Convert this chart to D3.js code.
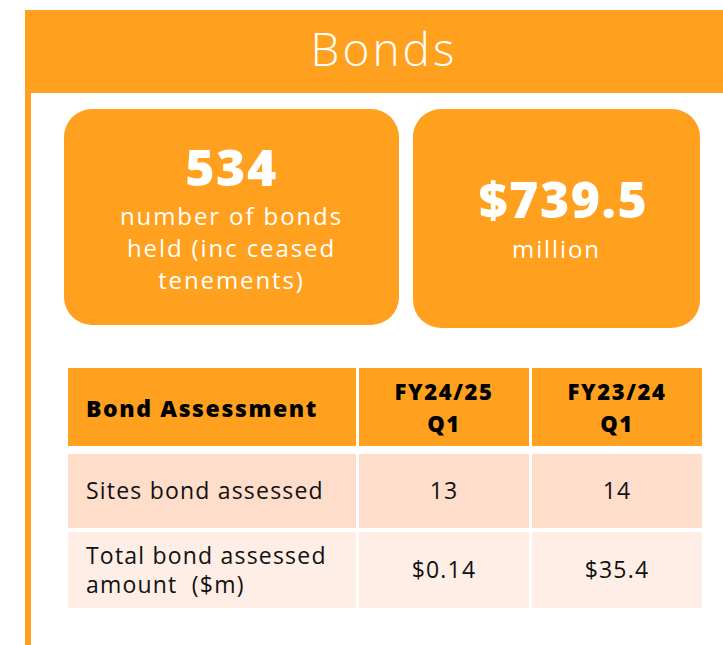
<!DOCTYPE html>
<html>
<head>
<meta charset="utf-8">
<script src="https://cdn.jsdelivr.net/npm/d3@7"></script>
<style>
  body { margin: 0; background: #fff; }
  svg { display: block; font-family: "Open Sans", Lato, sans-serif; }
  tspan { white-space: pre; }
</style>
</head>
<body>
<svg id="chart"></svg>
<script>
// data
var title = "Bonds";
var cardValues = ["534", "$739.5"];
var cardLabels = [["number of bonds", "held (inc ceased", "tenements)"], ["million"]];
var columns = [["Bond Assessment"], ["FY24/25", "Q1"], ["FY23/24", "Q1"]];
var rowLabels = [["Sites bond assessed"], ["Total bond assessed", "amount  ($m)"]];
var fy2425 = ["13", "$0.14"];
var fy2324 = ["14", "$35.4"];

var screen = {width: 723, height: 645};
var orange = "#FFA01E";
var rowFill = ["#FEDDCA", "#FEEEE5"];

var svg = d3.select("#chart")
  .attr("width", screen.width)
  .attr("height", screen.height);

// frame + header band
svg.append("rect")
  .attr("x", 25).attr("y", 10)
  .attr("width", 6).attr("height", screen.height)
  .attr("fill", orange);

svg.append("rect")
  .attr("x", 25).attr("y", 10)
  .attr("width", 720).attr("height", 83)
  .attr("rx", 2)
  .attr("fill", orange);

svg.append("text")
  .attr("x", 384).attr("y", 66)
  .attr("text-anchor", "middle")
  .attr("fill", "#fff")
  .attr("font-size", "46px")
  .attr("font-weight", 300)
  .attr("letter-spacing", "3px")
  .text(title);

// the two cards (different widths)
var cardBox = [{x: 64, w: 335, h: 216, vy: 77, vdx: 0, ly: 116}, {x: 413, w: 287, h: 219, vy: 109, vdx: 7, ly: 149}];

var cards = svg.selectAll(".card")
  .data(cardValues)
  .enter()
  .append("g")
  .attr("class", "card")
  .attr("transform", function(d, i) { return "translate(" + cardBox[i].x + ",109)"; });

cards.append("rect")
  .attr("width", function(d, i) { return cardBox[i].w; })
  .attr("height", function(d, i) { return cardBox[i].h; })
  .attr("rx", 28)
  .attr("fill", orange);

cards.append("text")
  .attr("x", function(d, i) { return cardBox[i].w / 2 + cardBox[i].vdx; })
  .attr("y", function(d, i) { return cardBox[i].vy; })
  .attr("text-anchor", "middle")
  .attr("fill", "#fff")
  .attr("font-size", "50px")
  .attr("font-weight", 800)
  .attr("letter-spacing", "1.5px")
  .text(function(d) { return d; });

cards.each(function(d, i) {
  var g = d3.select(this);
  g.selectAll(".lbl")
    .data(cardLabels[i])
    .enter()
    .append("text")
    .attr("class", "lbl")
    .attr("x", cardBox[i].w / 2)
    .attr("y", function(t, j) { return cardBox[i].ly + j * 32; })
    .attr("text-anchor", "middle")
    .attr("fill", "#fff")
    .attr("font-size", "24px")
    .attr("letter-spacing", "1.9px")
    .text(function(t) { return t; });
});

// table
var colX = d3.scaleOrdinal()
  .domain([0, 1, 2])
  .range([68, 359, 532]);
var colW = [288, 170, 170];
var rowTop = [368, 454, 532];
var rowH = [78, 74, 76];

var header = svg.append("g");
header.selectAll("rect")
  .data(columns)
  .enter()
  .append("rect")
  .attr("x", function(d, i) { return colX(i); })
  .attr("y", rowTop[0])
  .attr("width", function(d, i) { return colW[i]; })
  .attr("height", rowH[0])
  .attr("fill", orange);

header.selectAll("text")
  .data(columns)
  .enter()
  .append("text")
  .attr("y", function(d) { return d.length == 1 ? 417 : 400; })
  .attr("text-anchor", function(d, i) { return i == 0 ? "start" : "middle"; })
  .attr("font-size", function(d, i) { return i == 0 ? "23px" : "22px"; })
  .attr("font-weight", 800)
  .attr("letter-spacing", function(d, i) { return i == 0 ? "1.6px" : "1.6px"; })
  .attr("fill", "#000")
  .each(function(d, i) {
    var t = d3.select(this);
    var x = i == 0 ? colX(i) + 18 : colX(i) + colW[i] / 2;
    d.forEach(function(line, j) {
      t.append("tspan").attr("x", x).attr("dy", j == 0 ? 0 : 32).text(line);
    });
  });

var rows = svg.selectAll(".row")
  .data(rowLabels)
  .enter()
  .append("g")
  .attr("class", "row");

rows.each(function(label, r) {
  var g = d3.select(this);
  var cells = [label, [fy2425[r]], [fy2324[r]]];
  var top = rowTop[r + 1], h = rowH[r + 1];
  g.selectAll("rect")
    .data(cells)
    .enter()
    .append("rect")
    .attr("x", function(d, i) { return colX(i); })
    .attr("y", top)
    .attr("width", function(d, i) { return colW[i]; })
    .attr("height", h)
    .attr("fill", rowFill[r]);

  g.selectAll("text")
    .data(cells)
    .enter()
    .append("text")
    .attr("text-anchor", function(d, i) { return i == 0 ? "start" : "middle"; })
    .attr("font-size", "23px")
    .attr("letter-spacing", "1.2px")
    .attr("fill", "#111")
    .each(function(d, i) {
      var t = d3.select(this);
      var x = i == 0 ? colX(i) + 18 : colX(i) + colW[i] / 2;
      var y0 = top + h / 2 + 8 - (d.length - 1) * 14.5;
      d.forEach(function(line, j) {
        t.append("tspan").attr("x", x).attr("y", y0 + j * 29).text(line);
      });
    });
});
</script>
</body>
</html>
